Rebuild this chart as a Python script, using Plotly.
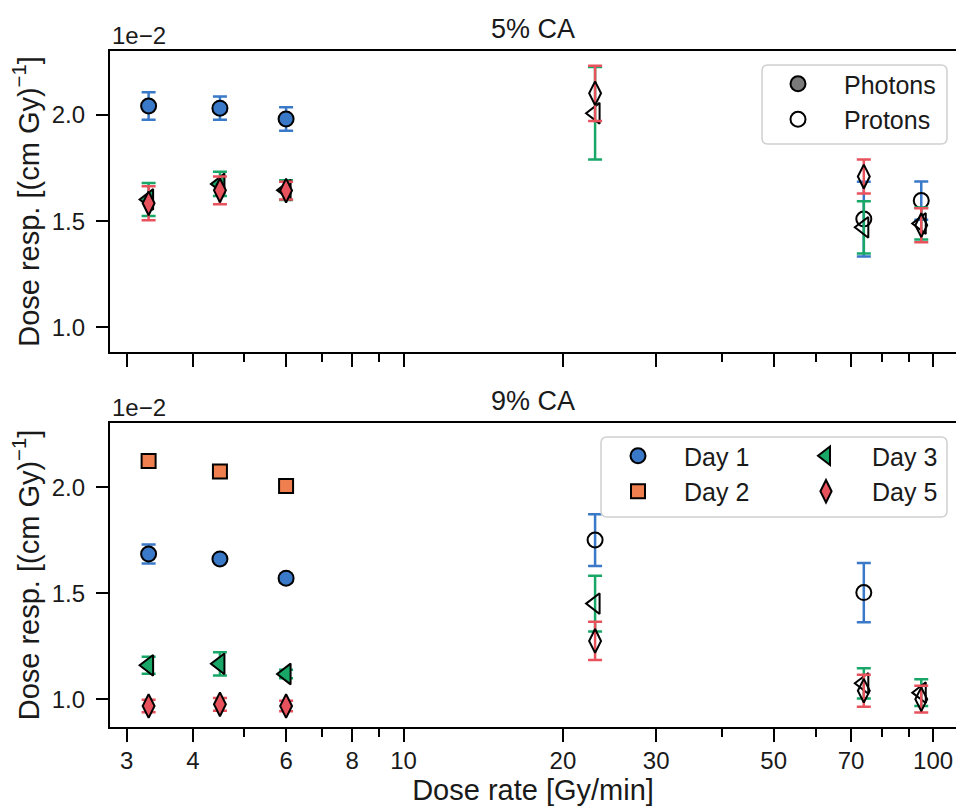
import math
import plotly.graph_objects as go

# ---------------- data ----------------
rates_photon = [3.3, 4.5, 6.0]      # Gy/min
rates_proton = [23, 74, 95]         # Gy/min

day_names = ["Day 1", "Day 2", "Day 3", "Day 5"]
day_colors = ["#3a78c8", "#f07f4f", "#19a768", "#e8525c"]
day_symbols = ["circle", "square", "triangle-left", "diamond-tall"]
day_sizes = [15, 14, 18, 17]

# 5 % CA, dose response in units of 1e-2 (cm Gy)^-1
ca5_ph_day1 = [2.042, 2.032, 1.981]
ca5_ph_day1_err = [0.065, 0.055, 0.055]
ca5_ph_day3 = [1.602, 1.675, 1.646]
ca5_ph_day3_err = [0.078, 0.057, 0.047]
ca5_ph_day5 = [1.584, 1.645, 1.644]
ca5_ph_day5_err = [0.080, 0.065, 0.042]
ca5_pr_day1 = [None, 1.510, 1.597]
ca5_pr_day1_err = [None, 0.176, 0.090]
ca5_pr_day3 = [2.008, 1.471, 1.489]
ca5_pr_day3_err = [0.218, 0.123, 0.075]
ca5_pr_day5 = [2.102, 1.710, 1.481]
ca5_pr_day5_err = [0.130, 0.080, 0.080]

# 9 % CA
ca9_ph_day1 = [1.685, 1.662, 1.571]
ca9_ph_day1_err = [0.045, 0.012, 0.020]
ca9_ph_day2 = [2.124, 2.074, 2.006]
ca9_ph_day2_err = [0.030, 0.010, 0.010]
ca9_ph_day3 = [1.160, 1.167, 1.119]
ca9_ph_day3_err = [0.040, 0.055, 0.020]
ca9_ph_day5 = [0.968, 0.976, 0.968]
ca9_ph_day5_err = [0.030, 0.030, 0.025]
ca9_pr_day1 = [1.751, 1.503, None]
ca9_pr_day1_err = [0.122, 0.140, None]
ca9_pr_day3 = [1.451, 1.075, 1.031]
ca9_pr_day3_err = [0.132, 0.071, 0.063]
ca9_pr_day5 = [1.275, 1.040, 1.000]
ca9_pr_day5_err = [0.090, 0.075, 0.063]

x_tickvals = [3, 4, 6, 8, 10, 20, 30, 50, 70, 100]
x_minor = [5, 7, 9, 40, 60, 80, 90]
y_tickvals = [1.0, 1.5, 2.0]

panel_titles = ["5% CA", "9% CA"]
offset_text = "1e\u22122"
x_title = "Dose rate [Gy/min]"
y_title = "Dose resp. [(cm Gy)<sup>\u22121</sup>]"

# ---------------- figure ----------------
FONT = "Liberation Sans, Arial, sans-serif"
TXT = "#1a1a1a"
W, H = 956, 806
ML, MR, MT, MB = 110, 0, 51, 79
PW, PH = W - ML - MR, H - MT - MB

fig = go.Figure()

ca5 = {
    0: (ca5_ph_day1, ca5_ph_day1_err, ca5_pr_day1, ca5_pr_day1_err),
    2: (ca5_ph_day3, ca5_ph_day3_err, ca5_pr_day3, ca5_pr_day3_err),
    3: (ca5_ph_day5, ca5_ph_day5_err, ca5_pr_day5, ca5_pr_day5_err),
}
ca9 = {
    0: (ca9_ph_day1, ca9_ph_day1_err, ca9_pr_day1, ca9_pr_day1_err),
    1: (ca9_ph_day2, ca9_ph_day2_err, None, None),
    2: (ca9_ph_day3, ca9_ph_day3_err, ca9_pr_day3, ca9_pr_day3_err),
    3: (ca9_ph_day5, ca9_ph_day5_err, ca9_pr_day5, ca9_pr_day5_err),
}


def clean(xs, ys, es):
    out = [(x, y, e) for x, y, e in zip(xs, ys, es) if y is not None]
    return [o[0] for o in out], [o[1] for o in out], [o[2] for o in out]


def add_panel(data, xa, ya, with_legend):
    for i, (ph, ph_err, pr, pr_err) in data.items():
        col = day_colors[i]
        err_style = dict(type="data", visible=True, color=col, thickness=2.5, width=7)
        x, y, e = clean(rates_photon, ph, ph_err)
        leg = "legend"
        if with_legend:
            leg = "legend2" if i in (0, 1) else "legend3"
        fig.add_trace(go.Scatter(
            x=x, y=y, mode="markers", name=day_names[i],
            error_y=dict(array=e, **err_style),
            marker=dict(symbol=day_symbols[i], size=day_sizes[i], color=col,
                        line=dict(color="black", width=2)),
            xaxis=xa, yaxis=ya, showlegend=with_legend, legend=leg,
        ))
        if pr is not None:
            x, y, e = clean(rates_proton, pr, pr_err)
            fig.add_trace(go.Scatter(
                x=x, y=y, mode="markers", name=day_names[i],
                error_y=dict(array=e, **err_style),
                marker=dict(symbol=day_symbols[i], size=day_sizes[i],
                            color="rgba(0,0,0,0)",
                            line=dict(color="black", width=2)),
                xaxis=xa, yaxis=ya, showlegend=False,
            ))


add_panel(ca5, "x2", "y2", False)
add_panel(ca9, "x", "y", True)

# Photons / Protons legend entries
fig.add_trace(go.Scatter(x=[None], y=[None], mode="markers", name="Photons",
                         marker=dict(symbol="circle", size=15, color="#7a7a7a",
                                     line=dict(color="black", width=2)),
                         xaxis="x2", yaxis="y2", legend="legend"))
fig.add_trace(go.Scatter(x=[None], y=[None], mode="markers", name="Protons",
                         marker=dict(symbol="circle", size=15, color="rgba(0,0,0,0)",
                                     line=dict(color="black", width=2)),
                         xaxis="x2", yaxis="y2", legend="legend"))


def px_x(px):
    return (px - ML) / PW


def px_y(py):
    return (H - MB - py) / PH


x_range = [math.log10(2.79), math.log10(2.79) + PW / 529.5]

common_x = dict(
    type="log", range=x_range, tickmode="array", tickvals=x_tickvals,
    ticktext=[str(v) for v in x_tickvals], ticks="outside", ticklen=13,
    tickwidth=2, tickcolor="black", showline=True, linewidth=2.2,
    linecolor="black", mirror=True, showgrid=False, zeroline=False,
    automargin=False, ticklabelstandoff=-2,
    tickfont=dict(family=FONT, size=24, color=TXT),
    minor=dict(tickvals=x_minor, ticks="outside", ticklen=8, tickwidth=2,
               tickcolor="black", showgrid=False),
)
common_y = dict(
    tickmode="array", tickvals=y_tickvals,
    ticktext=["%.1f" % v for v in y_tickvals], ticks="outside", ticklen=12,
    tickwidth=2, tickcolor="black", showline=True, linewidth=2.2,
    linecolor="black", mirror=False, showgrid=False, zeroline=False,
    automargin=False, ticklabelstandoff=6,
    tickfont=dict(family=FONT, size=24, color=TXT),
    title=dict(text=y_title, font=dict(family=FONT, size=29, color=TXT),
               standoff=4),
)

top_dom = [px_y(352), 1.0]
bot_dom = [0.0, px_y(423)]

leg_common = dict(xanchor="left", yanchor="top", bgcolor="rgba(0,0,0,0)",
                  borderwidth=0, itemwidth=82,
                  font=dict(family=FONT, size=25, color=TXT))

fig.update_layout(
    width=W, height=H,
    margin=dict(l=ML, r=MR, t=MT, b=MB, autoexpand=False),
    paper_bgcolor="white", plot_bgcolor="white",
    font=dict(family=FONT, color=TXT),
    xaxis=dict(**common_x, anchor="y",
               title=dict(text=x_title, font=dict(family=FONT, size=29, color=TXT),
                          standoff=6)),
    xaxis2=dict(**common_x, anchor="y2", matches="x", showticklabels=False),
    yaxis=dict(**common_y, domain=bot_dom, range=[0.869, 2.303], anchor="x"),
    yaxis2=dict(**common_y, domain=top_dom, range=[0.884, 2.301], anchor="x2"),
    legend=dict(x=px_x(752), y=px_y(61), **leg_common),
    legend2=dict(x=px_x(592), y=px_y(433), **leg_common),
    legend3=dict(x=px_x(780), y=px_y(433), **leg_common),
    showlegend=True,
)


def rounded_box(x0, y0, x1, y1, r=6):
    X0, X1 = px_x(x0), px_x(x1)
    Y0, Y1 = px_y(y0), px_y(y1)   # Y0 top, Y1 bottom
    rx, ry = r / PW, r / PH
    return (f"M {X0+rx},{Y0} L {X1-rx},{Y0} Q {X1},{Y0} {X1},{Y0-ry} "
            f"L {X1},{Y1+ry} Q {X1},{Y1} {X1-rx},{Y1} L {X0+rx},{Y1} "
            f"Q {X0},{Y1} {X0},{Y1+ry} L {X0},{Y0-ry} Q {X0},{Y0} {X0+rx},{Y0} Z")


for box in [(762, 65, 947, 144), (601, 437, 947, 517)]:
    fig.add_shape(type="path", path=rounded_box(*box), xref="paper", yref="paper",
                  line=dict(color="#d0d0d0", width=1.5),
                  fillcolor="rgba(255,255,255,0.8)", layer="above")

for title, xr, yr in [(panel_titles[0], "x2 domain", "y2 domain"),
                      (panel_titles[1], "x domain", "y domain")]:
    fig.add_annotation(text=title, x=0.5, y=1, xref=xr, yref=yr, xanchor="center",
                       yanchor="bottom", yshift=5, showarrow=False,
                       font=dict(family=FONT, size=27, color=TXT))
    fig.add_annotation(text=offset_text, x=0, y=1, xref=xr, yref=yr, xanchor="left",
                       yanchor="bottom", yshift=0, showarrow=False,
                       font=dict(family=FONT, size=24, color=TXT))

fig.write_html("out.html",
               config={"displayModeBar": False},
               post_script="document.body.style.margin='0px';"
                           "document.body.style.padding='0px';")
